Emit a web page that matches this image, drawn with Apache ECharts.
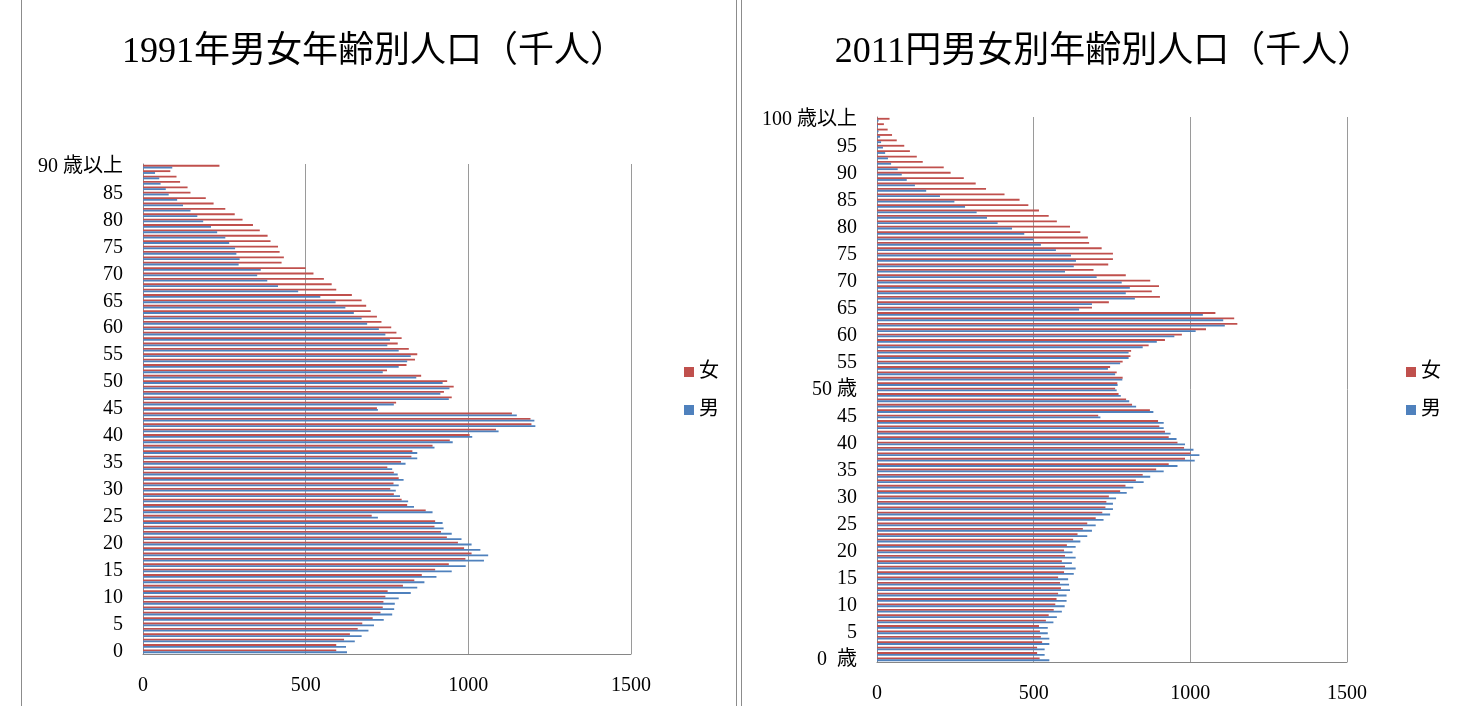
<!DOCTYPE html>
<html><head><meta charset="utf-8">
<script src="https://cdn.jsdelivr.net/npm/echarts@6/dist/echarts.min.js"></script>
<style>html,body{margin:0;padding:0;background:#fff}#c{width:1478px;height:706px}</style>
</head><body><div id="c"></div>
<script>
const title1991 = '1991年男女年齢別人口（千人）';
const title2011 = '2011円男女別年齢別人口（千人）';
const seriesNames = ['女', '男'];
const xTicks = [0, 500, 1000, 1500];
const ages1991 = Array.from({length: 91}, (_, i) => i === 90 ? '90 歳以上' : String(i));
const ages2011 = Array.from({length: 101}, (_, i) => i === 100 ? '100 歳以上' : (i === 0 ? '0  歳' : (i === 50 ? '50 歳' : String(i))));

const male1991 = [627,624,651,672,693,710,740,766,772,774,
  786,823,843,865,902,949,992,1048,1061,1037,
  1010,979,949,924,921,722,890,833,815,790,
  777,786,801,783,766,807,843,843,896,952,
  1012,1093,1206,1203,1149,722,771,940,914,942,
  921,840,737,786,812,823,786,751,759,745,
  725,689,672,648,622,592,545,477,415,382,
  351,362,294,297,287,283,265,253,228,209,
  185,167,146,123,105,79,70,54,50,37,
  90];
const female1991 = [594,594,618,636,660,674,706,730,737,739,
  745,752,799,834,857,898,940,991,1010,987,
  968,934,916,896,898,703,869,812,795,771,
  760,770,786,771,751,793,825,828,890,943,
  1004,1085,1194,1191,1134,719,778,949,925,955,
  935,855,750,810,836,843,817,783,795,779,
  763,733,719,700,686,672,642,594,580,556,
  524,500,426,433,420,415,392,383,359,338,
  306,282,253,217,193,146,137,114,103,84,
  235];
const male2011 = [550,535,535,550,550,545,545,563,574,590,
  599,605,605,616,613,610,628,634,622,634,
  624,634,649,671,686,698,723,744,753,753,
  763,797,818,851,872,915,959,1014,1029,1010,
  983,956,937,915,915,713,882,827,805,778,
  765,768,783,760,737,776,803,803,848,893,
  949,1017,1110,1105,1040,645,686,823,794,807,
  781,701,600,628,635,619,571,523,500,470,
  431,385,351,318,281,247,201,157,121,95,
  79,66,45,35,26,19,13,10,5,3,5];
const female2011 = [519,511,511,527,523,520,517,539,548,564,
  569,573,578,587,584,578,597,600,590,600,
  597,606,626,640,657,671,698,719,729,732,
  740,776,793,826,848,891,931,983,1001,980,
  959,931,919,901,897,706,871,814,795,771,
  760,767,784,765,744,784,809,811,867,919,
  973,1050,1150,1140,1080,686,740,903,877,900,
  872,794,691,738,753,753,717,677,673,649,
  616,574,548,517,483,455,407,348,315,277,
  235,213,146,127,105,87,63,48,34,22,40];

const RED = '#C0504D', BLUE = '#4F81BD';
const FONT = "'Liberation Serif','DejaVu Serif','Noto Sans CJK JP',serif";
const chart = echarts.init(document.getElementById('c'), null, {renderer: 'canvas'});

function xAx(gi) {
  return {
    type: 'value', gridIndex: gi, min: xTicks[0], max: xTicks[xTicks.length - 1], interval: 500,
    axisLine: {show: true, lineStyle: {color: '#868686', width: 1}},
    axisTick: {show: false},
    splitLine: {show: true, lineStyle: {color: '#9a9a9a', width: 1}},
    axisLabel: {color: '#000', fontFamily: FONT, fontSize: 20, margin: 22, formatter: v => String(v)}
  };
}
function yAx(gi, cats) {
  return {
    type: 'category', gridIndex: gi, data: cats,
    axisLine: {show: true, lineStyle: {color: '#868686', width: 1}},
    axisTick: {show: false},
    axisLabel: {interval: 4, color: '#000', fontFamily: FONT, fontSize: 20, margin: 20}
  };
}
function bar(name, gi, data, color) {
  return {
    name: name, type: 'bar', xAxisIndex: gi, yAxisIndex: gi, data: data,
    itemStyle: {color: color}, barGap: '0%', barCategoryGap: '32%', animation: false
  };
}

chart.setOption({
  animation: false,
  backgroundColor: '#fff',
  title: [
    {text: title1991, left: 369, top: 30, textAlign: 'center',
     textStyle: {fontFamily: FONT, fontSize: 36, fontWeight: 'normal', color: '#000'}},
    {text: title2011, left: 1099, top: 30, textAlign: 'center',
     textStyle: {fontFamily: FONT, fontSize: 36, fontWeight: 'normal', color: '#000'}}
  ],
  legend: [
    {data: seriesNames, orient: 'vertical', left: 679, top: 357, itemWidth: 10, itemHeight: 10, itemGap: 18,
     icon: 'rect', textStyle: {fontFamily: FONT, fontSize: 20, color: '#000'}},
    {data: seriesNames, orient: 'vertical', left: 1401, top: 357, itemWidth: 10, itemHeight: 10, itemGap: 18,
     icon: 'rect', textStyle: {fontFamily: FONT, fontSize: 20, color: '#000'}}
  ],
  grid: [
    {left: 143, top: 164, width: 488, height: 490},
    {left: 877, top: 117, width: 470, height: 545}
  ],
  xAxis: [xAx(0), xAx(1)],
  yAxis: [yAx(0, ages1991), yAx(1, ages2011)],
  series: [
    bar('女', 0, female1991, RED),
    bar('男', 0, male1991, BLUE),
    bar('女', 1, female2011, RED),
    bar('男', 1, male2011, BLUE)
  ],
  graphic: [
    {type: 'rect', shape: {x: 21.5, y: -5, width: 715, height: 720}, style: {fill: 'none', stroke: '#8c8c8c', lineWidth: 1}, silent: true},
    {type: 'rect', shape: {x: 741.5, y: -5, width: 740, height: 720}, style: {fill: 'none', stroke: '#8c8c8c', lineWidth: 1}, silent: true}
  ]
});
</script></body></html>
